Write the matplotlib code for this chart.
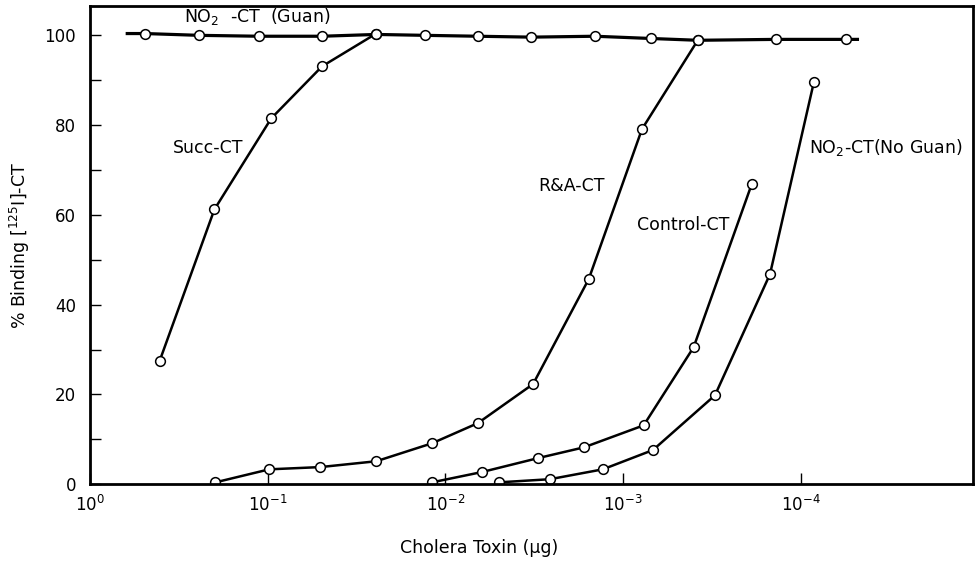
import numpy as np
import matplotlib
matplotlib.use("Agg")
import matplotlib.pyplot as plt
from matplotlib.ticker import FixedLocator, LogFormatterMathtext, MultipleLocator, NullLocator

plt.rcParams['font.family'] = 'DejaVu Sans'
plt.rcParams['mathtext.fontset'] = 'dejavusans'

# cholera toxin (ug) vs % binding
guan_x = [0.617, 0.489, 0.243, 0.1117, 0.0494, 0.0245, 0.0130, 0.00655,
          0.00330, 0.00144, 0.000698, 0.00038, 0.000138, 5.6e-5, 4.8e-5]
guan_y = [100.4, 100.4, 100.0, 99.8, 99.8, 100.2, 100.0, 99.8,
          99.6, 99.8, 99.3, 98.9, 99.1, 99.1, 99.1]

succ_x = [0.406, 0.1995, 0.0955, 0.0494, 0.0245]
succ_y = [27.4, 61.2, 81.5, 93.1, 100.4]

ra_x = [0.1968, 0.0980, 0.0506, 0.0245, 0.01189, 0.00656, 0.00321,
        0.00156, 0.000783, 0.00038]
ra_y = [0.4, 3.3, 3.8, 5.1, 9.1, 13.6, 22.3, 45.7, 79.1, 98.9]

ctrl_x = [0.01189, 0.00622, 0.00301, 0.00166, 0.000766, 0.000401, 0.000189]
ctrl_y = [0.4, 2.7, 5.8, 8.2, 13.1, 30.5, 66.8]

noguan_x = [0.00499, 0.00258, 0.00130, 0.000679, 0.000304, 0.000149, 8.45e-5]
noguan_y = [0.4, 1.1, 3.3, 7.6, 19.8, 46.8, 89.5]

x_ticks = [1.0, 1e-1, 1e-2, 1e-3, 1e-4]

fig = plt.figure(figsize=(9.76, 5.61), dpi=100)
ax = fig.add_axes([0.0922, 0.137, 0.905, 0.852])

style = dict(color='black', linewidth=1.8, marker='o', markersize=7,
             markerfacecolor='white', markeredgecolor='black', markeredgewidth=1.1)

ax.plot(guan_x, guan_y, markevery=slice(1, -1), **{**style, 'linewidth': 2.3})
ax.plot(succ_x, succ_y, **style)
ax.plot(ra_x, ra_y, **style)
ax.plot(ctrl_x, ctrl_y, **style)
ax.plot(noguan_x, noguan_y, **style)

ax.set_xscale('log')
ax.set_xlim(1.0, 1.07e-5)
ax.set_ylim(0, 106.5)

ax.xaxis.set_major_locator(FixedLocator(x_ticks))
ax.xaxis.set_major_formatter(LogFormatterMathtext())
ax.xaxis.set_minor_locator(NullLocator())
ax.yaxis.set_major_locator(MultipleLocator(20))
ax.yaxis.set_minor_locator(MultipleLocator(10))

ax.tick_params(axis='both', which='both', direction='in', labelsize=12)
ax.tick_params(axis='y', which='major', length=8, width=1, pad=10)
ax.tick_params(axis='y', which='minor', length=8, width=1)
ax.tick_params(axis='x', which='major', length=8, width=1, pad=8)
for s in ax.spines.values():
    s.set_linewidth(2)

# curve labels
fs = 12.5
ax.text(0.294, 104.3, r'NO$_2$  -CT  (Guan)', fontsize=fs, ha='left', va='center')
ax.text(0.34, 74.8, 'Succ-CT', fontsize=fs, ha='left', va='center')
ax.text(0.00302, 66.4, 'R&A-CT', fontsize=fs, ha='left', va='center')
ax.text(0.000837, 57.7, 'Control-CT', fontsize=fs, ha='left', va='center')
ax.text(9.04e-5, 75.0, r'NO$_2$-CT(No Guan)', fontsize=fs, ha='left', va='center')

ax.set_xlabel('Cholera Toxin (µg)', fontsize=fs)
ax.xaxis.set_label_coords(0.44, -0.115)
ax.set_ylabel(r'% Binding [$^{125}$I]-CT', fontsize=fs, labelpad=9)

fig.savefig('out.png', dpi=100)
